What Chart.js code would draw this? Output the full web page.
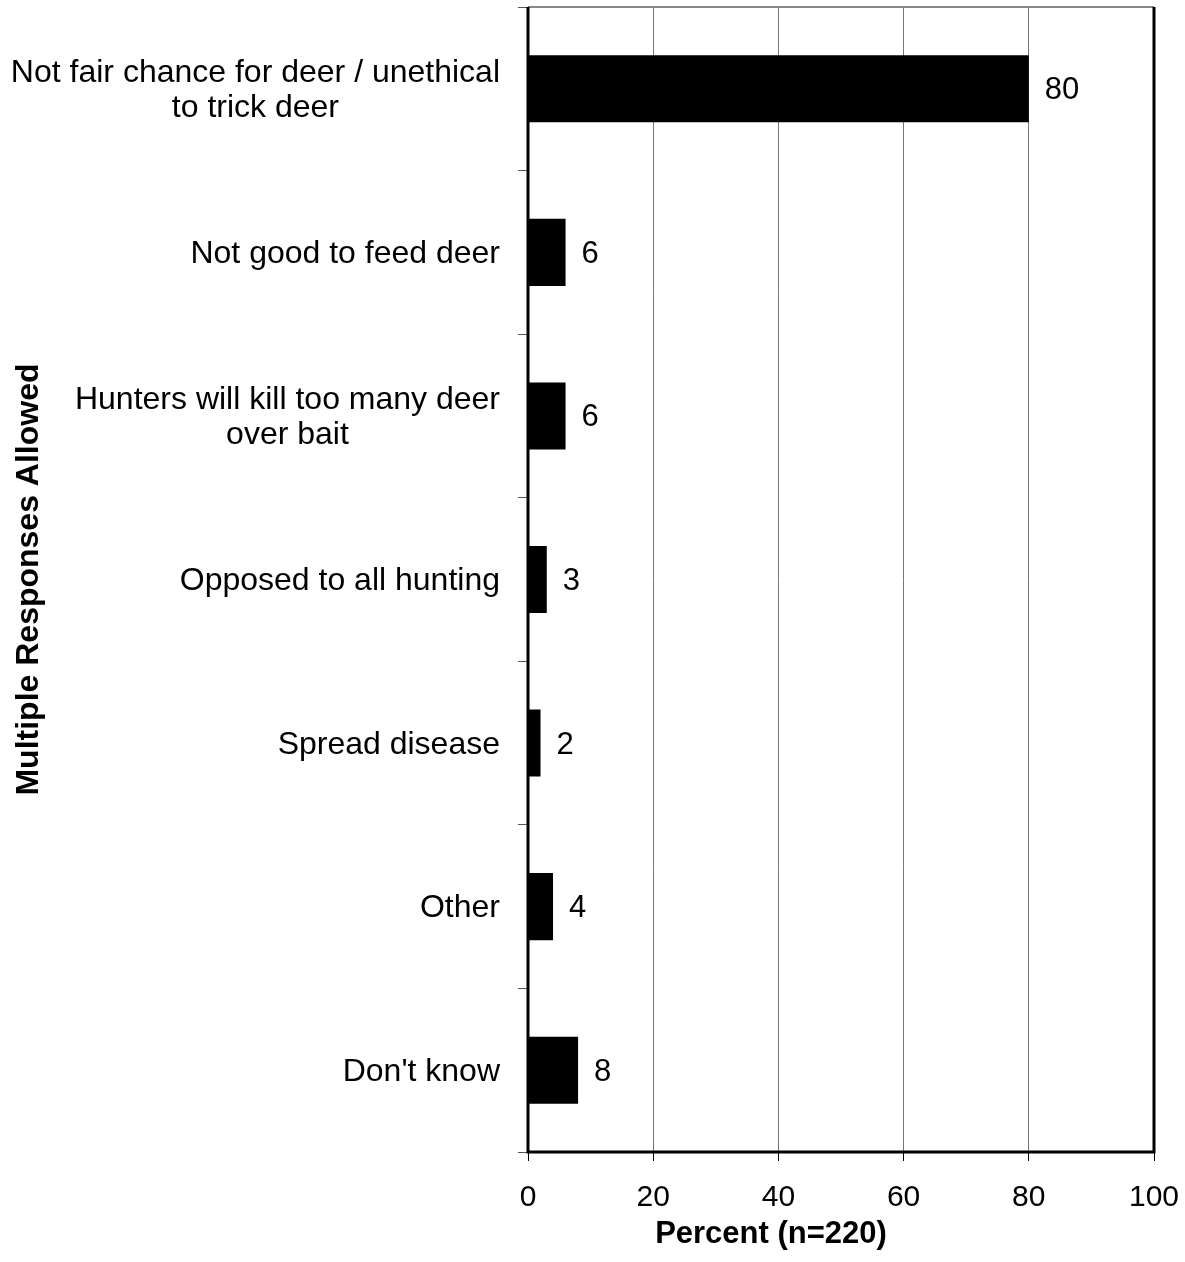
<!DOCTYPE html>
<html>
<head>
<meta charset="utf-8">
<script src="https://cdn.jsdelivr.net/npm/chart.js@4"></script>
<style>
  html, body { margin: 0; padding: 0; background: #fff; }
  #wrap { width: 1185px; height: 1262px; }
</style>
</head>
<body>
<div id="wrap"><canvas id="myChart" width="1185" height="1262"></canvas></div>
<script>
// Chart data
const categories = [
  ['Not fair chance for deer / unethical', 'to trick deer'],
  'Not good to feed deer',
  ['Hunters will kill too many deer', 'over bait'],
  'Opposed to all hunting',
  'Spread disease',
  'Other',
  "Don't know"
];
const percentValues = [80, 6, 6, 3, 2, 4, 8];
const xTicks = [0, 20, 40, 60, 80, 100];

const FONT = "'Liberation Sans', Arial, Helvetica, sans-serif";

// Draws the frame, category labels, value labels and the x axis title
const extras = {
  id: 'extras',
  afterDraw(chart) {
    const c = chart.ctx;
    const a = chart.chartArea;
    const yScale = chart.scales.y;
    c.save();
    // top border (light)
    c.strokeStyle = '#888';
    c.lineWidth = 2;
    c.beginPath();
    c.moveTo(a.left, a.top);
    c.lineTo(a.right, a.top);
    c.stroke();
    // left, right, bottom borders
    c.strokeStyle = '#000';
    c.lineWidth = 3;
    c.beginPath();
    c.moveTo(a.left, a.top);
    c.lineTo(a.left, a.bottom);
    c.lineTo(a.right, a.bottom);
    c.lineTo(a.right, a.top);
    c.stroke();

    // category labels: block right aligned, lines centred inside the block
    c.fillStyle = '#000';
    c.font = '32px ' + FONT;
    c.textAlign = 'center';
    c.textBaseline = 'middle';
    const rightEdge = a.left - 28;
    const lineH = 35;
    categories.forEach((lab, i) => {
      const lines = Array.isArray(lab) ? lab : [lab];
      const w = Math.max(...lines.map(l => c.measureText(l).width));
      const cx = rightEdge - w / 2;
      const cy = yScale.getPixelForValue(i) + 2;
      lines.forEach((l, j) => {
        c.fillText(l, cx, cy + (j - (lines.length - 1) / 2) * lineH);
      });
    });

    // value labels
    const meta = chart.getDatasetMeta(0);
    c.font = '31px ' + FONT;
    c.textAlign = 'left';
    meta.data.forEach((bar, i) => {
      c.fillText(String(percentValues[i]), bar.x + 16, bar.y + 2);
    });

    // x axis title
    c.font = 'bold 31px ' + FONT;
    c.textAlign = 'center';
    c.fillText('Percent (n=220)', 771, 1234);
    c.restore();
  }
};

const ctx = document.getElementById('myChart').getContext('2d');
const myChart = new Chart(ctx, {
  type: 'bar',
  data: {
    labels: categories,
    datasets: [{
      data: percentValues,
      backgroundColor: '#000',
      borderWidth: 0,
      barPercentage: 0.82,
      categoryPercentage: 0.5
    }]
  },
  options: {
    indexAxis: 'y',
    responsive: false,
    animation: false,
    layout: { padding: { top: 7, right: 31, left: 0, bottom: 0 } },
    plugins: {
      legend: { display: false },
      tooltip: { enabled: false }
    },
    scales: {
      x: {
        min: 0,
        max: 100,
        afterBuildTicks: (scale) => {
          scale.ticks = xTicks.map(v => ({ value: v }));
        },
        afterFit: (scale) => {
          scale.height = 110;
          scale.paddingLeft = 0;
          scale.paddingRight = 0;
        },
        border: { display: false },
        grid: {
          color: '#777',
          lineWidth: 1,
          drawTicks: true,
          tickLength: 9,
          tickColor: '#000'
        },
        ticks: {
          color: '#000',
          padding: 19,
          font: { family: FONT, size: 30 }
        }
      },
      y: {
        afterFit: (scale) => {
          scale.width = 528;
          scale.paddingTop = 0;
          scale.paddingBottom = 0;
        },
        border: { display: false },
        grid: {
          offset: true,
          drawOnChartArea: false,
          tickLength: 10,
          tickColor: '#555',
          lineWidth: 1
        },
        ticks: {
          display: false
        },
        title: {
          display: true,
          text: 'Multiple Responses Allowed',
          color: '#000',
          padding: { top: 10, bottom: 0 },
          font: { family: FONT, size: 32, weight: 'bold' }
        }
      }
    }
  },
  plugins: [extras]
});
</script>
</body>
</html>
